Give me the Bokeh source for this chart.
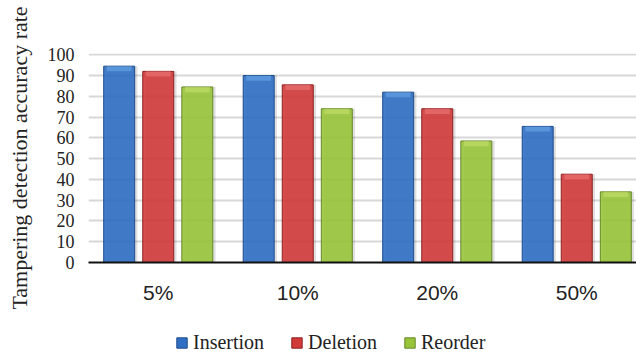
from bokeh.plotting import figure
from bokeh.layouts import column
from bokeh.models import Range1d, FixedTicker, Legend, LegendItem, ColumnDataSource
from bokeh.embed import file_html
from bokeh.resources import INLINE

categories = ["5%", "10%", "20%", "50%"]
series_names = ["Insertion", "Deletion", "Reorder"]
insertion = [94.5, 90.0, 82.0, 65.5]
deletion = [92.0, 85.5, 74.0, 42.5]
reorder = [84.5, 74.0, 58.5, 34.0]
y_ticks = [0, 10, 20, 30, 40, 50, 60, 70, 80, 90, 100]

fills = ["#2f6fc4", "#d23a3a", "#98c43a"]
edges = ["#1d4a8a", "#8e2020", "#66872a"]
tops = ["#6aa6e6", "#ee7a7a", "#c8e070"]

W, H = 636, 354
LEG_H = 30
p = figure(width=W, height=H - LEG_H, output_backend="svg", toolbar_location=None,
           x_range=Range1d(0.5, 0.5 + 548 / 139.5), y_range=Range1d(0, 100.6),
           min_border_left=88, min_border_right=0, min_border_top=53,
           min_border_bottom=62,
           background_fill_color="white", border_fill_color="white")
p.outline_line_color = None

xs = list(range(1, len(categories) + 1))
offsets = [-0.28, 0.0, 0.28]
bw = 0.222
for vals, off, fc, ec, tc in zip([insertion, deletion, reorder], offsets, fills, edges, tops):
    src = ColumnDataSource(dict(x=[x + off for x in xs], top=vals,
                                sx=[x + off + 0.02 for x in xs],
                                cap=[v - 2.5 for v in vals]))
    p.vbar(x="sx", top="top", width=bw, bottom=0, source=src,
           fill_color="#000000", fill_alpha=0.12, line_color=None)
    p.vbar(x="x", top="top", width=bw, bottom=0, source=src,
           fill_color=fc, fill_alpha=0.9, line_color=ec, line_width=1)
    p.vbar(x="x", top="top", bottom="cap", width=bw * 0.8, source=src,
           fill_color=tc, fill_alpha=0.6, line_color=None)

p.xaxis.ticker = FixedTicker(ticks=xs)
p.xaxis.major_label_overrides = {x: c for x, c in zip(xs, categories)}
p.xaxis.major_tick_line_color = None
p.xaxis.minor_tick_line_color = None
p.xaxis.major_tick_out = 0
p.xaxis.major_tick_in = 0
p.xaxis.minor_tick_out = 0
p.xaxis.minor_tick_in = 0
p.xaxis.axis_line_color = "#111111"
p.xaxis.axis_line_width = 2
p.xaxis.major_label_standoff = 18
p.xaxis.major_label_text_font = "Liberation Sans"
p.xaxis.major_label_text_font_size = "21px"
p.xaxis.major_label_text_color = "#222222"

p.yaxis.ticker = FixedTicker(ticks=y_ticks)
p.yaxis.axis_line_color = None
p.yaxis.major_tick_line_color = None
p.yaxis.minor_tick_line_color = None
p.yaxis.major_tick_out = 0
p.yaxis.major_tick_in = 0
p.yaxis.minor_tick_out = 0
p.yaxis.minor_tick_in = 0
p.yaxis.major_label_standoff = 14
p.yaxis.major_label_text_font = "Liberation Serif"
p.yaxis.major_label_text_font_size = "18px"
p.yaxis.major_label_text_color = "#222222"
p.yaxis.axis_label = "Tampering detection accuracy rate"
p.yaxis.axis_label_text_font = "Liberation Serif"
p.yaxis.axis_label_text_font_size = "22px"
p.yaxis.axis_label_text_font_style = "normal"
p.yaxis.axis_label_text_color = "#222222"
p.yaxis.axis_label_standoff = 13

p.xgrid.grid_line_color = None
p.ygrid.grid_line_color = "#d8d8d8"
p.ygrid.grid_line_width = 2

# legend strip
pl = figure(width=W, height=LEG_H, output_backend="svg", toolbar_location=None,
            x_range=Range1d(0, 1), y_range=Range1d(0, 1),
            x_axis_type=None, y_axis_type=None,
            min_border=0, background_fill_color="white", border_fill_color="white")
pl.outline_line_color = None
pl.grid.visible = False
items = []
for name, fc, ec in zip(series_names, fills, edges):
    r = pl.vbar(x=[5], top=[1], width=0.1, fill_color=fc, line_color=ec, line_width=1)
    items.append(LegendItem(label=name, renderers=[r]))
legend = Legend(items=items, orientation="horizontal", location=(87, 0),
                label_text_font="Liberation Serif", label_text_font_size="20px",
                label_text_color="#222222", glyph_width=13, glyph_height=13,
                spacing=26, label_standoff=5, border_line_color=None,
                background_fill_alpha=0, padding=0, margin=0)
pl.add_layout(legend, "center")

layout = column(p, pl, spacing=0)
open("out.html", "w").write(file_html(layout, INLINE))
